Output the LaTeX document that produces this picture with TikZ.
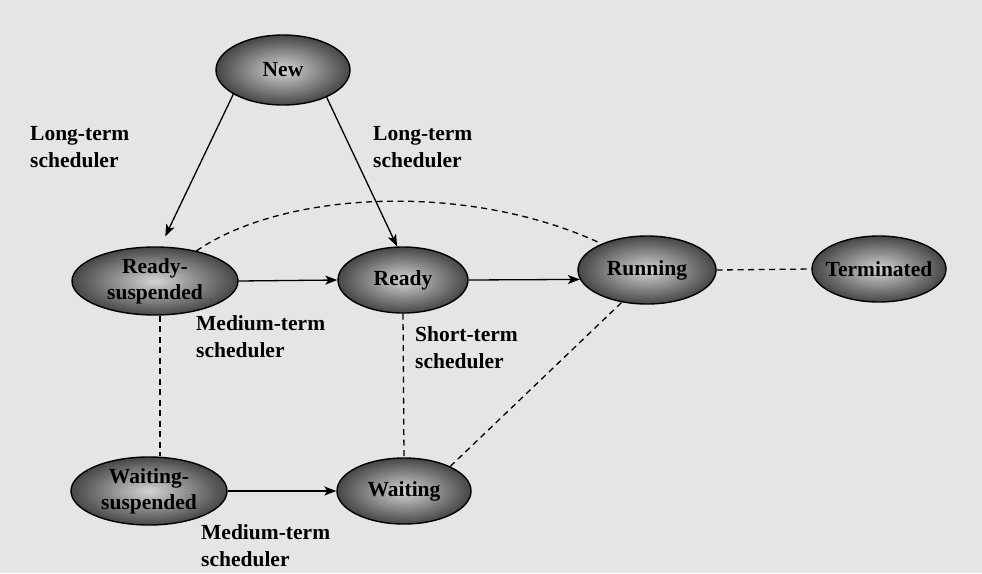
\documentclass[tikz,border=0pt]{standalone}
\usepackage{fontspec}
\setmainfont{Liberation Serif}
\usetikzlibrary{arrows.meta,shapes.geometric}
\definecolor{bg}{HTML}{E5E5E5}
\definecolor{stin}{HTML}{D4D4D4}
\definecolor{stout}{HTML}{464646}
\tikzset{
  state/.style={ellipse, draw=black, line width=1.4pt, inner sep=0pt,
    shading=radial, inner color=stin, outer color=stout},
  stxt/.style={font=\fontsize{21.5}{27}\selectfont\bfseries, align=center, inner sep=0pt},
  lab/.style={font=\fontsize{21.5}{27}\selectfont\bfseries, align=left, anchor=north west, inner sep=0pt},
  arr/.style={line width=1.3pt, -{Stealth[length=12pt,width=9pt,inset=3pt]}},
  dsh/.style={line width=1.3pt, dash pattern=on 6pt off 4.5pt}
}
\begin{document}
\begin{tikzpicture}[x=1pt,y=-1pt]
\fill[bg] (0,0) rectangle (982,573);
\useasboundingbox (0,0) rectangle (982,573);

\node[state, minimum width=134pt, minimum height=70pt, label={[stxt]center:New}] (new) at (283,70) {};
\node[state, minimum width=166pt, minimum height=68pt, label={[stxt]center:Ready-\\[-1pt]suspended}] (rs) at (155,281) {};
\node[state, minimum width=130pt, minimum height=66pt, label={[stxt]center:Ready}] (ready) at (403,280) {};
\node[state, minimum width=138pt, minimum height=68pt, label={[stxt]center:Running}] (run) at (647,270) {};
\node[state, minimum width=134pt, minimum height=66pt, label={[stxt]center:Terminated}] (term) at (879,269) {};
\node[state, minimum width=156pt, minimum height=68pt, label={[stxt]center:Waiting-\\[-1pt]suspended}] (ws) at (149,491) {};
\node[state, minimum width=134pt, minimum height=66pt, label={[stxt]center:Waiting}] (wait) at (404,491) {};

\node[lab] (l1) at (30,126) {Long-term\\scheduler};
\node[lab] (l2) at (373,126) {Long-term\\scheduler};
\node[lab] (l3) at (196,315) {Medium-term\\scheduler};
\node[lab] (l4) at (415,326) {Short-term\\scheduler};
\node[lab] (l5) at (201,524) {Medium-term\\scheduler};

\draw[arr, shorten >=11pt] (new.206) -- (rs.81);
\draw[arr] (new.328) -- (ready.100);
\draw[arr] (rs.east) -- (ready.west);
\draw[arr] (ready.east) -- (run.188);
\draw[arr] (ws.east) -- (wait.west);

\draw[dsh] (run.east) -- (term.west);
\draw[dsh] (rs.36) .. controls (285,190) and (470,182) .. (run.150);
\draw[dsh] (rs.south -| 160,0) -- (ws.north -| 160,0);
\draw[dsh] (ready.south) -- (wait.north);
\draw[dsh] (wait.28) -- (run.232);
\end{tikzpicture}
\end{document}
